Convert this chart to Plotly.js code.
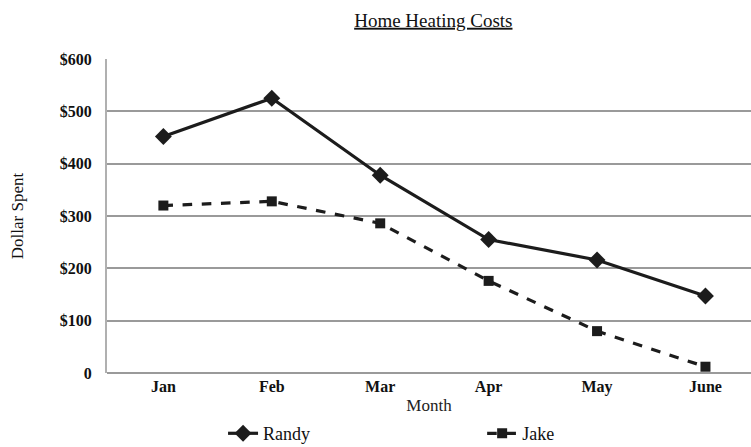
<!DOCTYPE html>
<html>
<head>
<meta charset="utf-8">
<script src="https://cdn.plot.ly/plotly-3.0.1.min.js"></script>
<style>html,body{margin:0;padding:0;background:#fff;}#chart{width:751px;height:447px;}</style>
</head>
<body>
<div id="chart"></div>
<script>
const months = ["Jan", "Feb", "Mar", "Apr", "May", "June"];
const randy = [452, 525, 378, 255, 216, 147];
const jake = [320, 328, 286, 176, 80, 12];
const yTickVals = [0, 100, 200, 300, 400, 500, 600];
const yTickText = ["0", "$100", "$200", "$300", "$400", "$500", "$600"];

const serif = "Liberation Serif, DejaVu Serif, serif";

const traces = [
  {
    x: months, y: randy, name: "Randy", type: "scatter", mode: "lines+markers",
    legend: "legend",
    line: {color: "#1c1c1c", width: 3.2, dash: "solid"},
    marker: {symbol: "diamond", size: 13, color: "#1c1c1c"}
  },
  {
    x: months, y: jake, name: "Jake", type: "scatter", mode: "lines+markers",
    legend: "legend2",
    line: {color: "#1c1c1c", width: 3.2, dash: "dash"},
    marker: {symbol: "square", size: 10, color: "#1c1c1c"}
  }
];

const legendCommon = {
  orientation: "h", xref: "container", yref: "container",
  xanchor: "left", yanchor: "middle", y: 0.03,
  font: {family: serif, size: 18, color: "#111"},
  bgcolor: "rgba(0,0,0,0)", borderwidth: 0
};

const layout = {
  width: 751, height: 447,
  margin: {l: 107, r: 0, t: 59, b: 74, autoexpand: false},
  paper_bgcolor: "#fff", plot_bgcolor: "#fff",
  font: {family: serif, color: "#111"},
  showlegend: true,
  title: {
    text: "<u>Home Heating Costs</u>",
    font: {family: serif, size: 19, color: "#111"},
    x: 0.577, xref: "container", xanchor: "center", y: 0.955, yanchor: "middle"
  },
  xaxis: {
    type: "category", range: [-0.52, 5.42], automargin: true,
    showgrid: false, zeroline: false, showline: false,
    ticks: "", ticklabelstandoff: 2,
    tickfont: {family: serif, size: 16, color: "#111", weight: "bold"},
    title: {text: "Month", font: {family: serif, size: 17, color: "#222"}, standoff: 14}
  },
  yaxis: {
    range: [0, 600], tickvals: yTickVals, ticktext: yTickText,
    showgrid: true, gridcolor: "#9a9a9a", gridwidth: 2,
    zeroline: true, zerolinecolor: "#9a9a9a", zerolinewidth: 2,
    showline: true, linecolor: "#b0b0b0", linewidth: 2,
    ticks: "", ticklabelstandoff: 10,
    tickfont: {family: serif, size: 16, color: "#111", weight: "bold"},
    title: {text: "Dollar Spent", font: {family: serif, size: 17, color: "#111"}, standoff: 32}
  },
  legend: Object.assign({}, legendCommon, {x: 0.297}),
  legend2: Object.assign({}, legendCommon, {x: 0.642})
};

Plotly.newPlot("chart", traces, layout, {displayModeBar: false, staticPlot: true});
</script>
</body>
</html>
